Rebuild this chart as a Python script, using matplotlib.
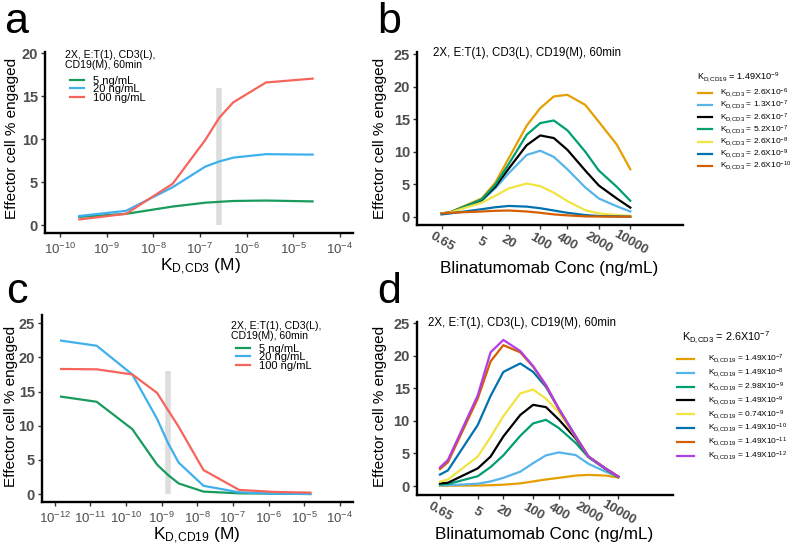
import numpy as np
import matplotlib
matplotlib.use('Agg')
import matplotlib.pyplot as plt

plt.rcParams['font.family'] = ['Liberation Sans', 'DejaVu Sans']
plt.rcParams['mathtext.fontset'] = 'custom'
plt.rcParams['mathtext.rm'] = 'Liberation Sans'
plt.rcParams['mathtext.it'] = 'Liberation Sans:italic'
plt.rcParams['mathtext.bf'] = 'Liberation Sans:bold'

# ---- panel a: vary KD,CD3 ----
kd_cd3 = [2.6e-10, 2.6e-9, 2.6e-8, 1.3e-7, 2.6e-7, 5.2e-7, 2.6e-6, 2.6e-5]
a_5 = [0.95, 1.3, 2.15, 2.6, 2.7, 2.8, 2.85, 2.75]
a_20 = [1.05, 1.65, 4.4, 6.8, 7.4, 7.85, 8.25, 8.2]
a_100 = [0.65, 1.3, 4.8, 9.9, 12.5, 14.3, 16.6, 17.05]

# ---- panel c: vary KD,CD19 ----
kd_cd19 = [1.49e-12, 1.49e-11, 1.49e-10, 7.4e-10, 1.49e-9, 2.98e-9, 1.49e-8, 1.49e-7, 1.49e-6, 1.49e-5]
c_5 = [14.25, 13.5, 9.5, 4.3, 2.8, 1.55, 0.35, 0.1, 0.05, 0.0]
c_20 = [22.45, 21.7, 17.5, 11.0, 7.5, 4.6, 1.2, 0.25, 0.05, 0.0]
c_100 = [18.3, 18.25, 17.5, 14.8, 12.3, 9.85, 3.5, 0.6, 0.3, 0.2]

conc_labels = ['5 ng/mL', '20 ng/mL', '100 ng/mL']
conc_colors = ['#1a9b5e', '#3fb0ee', '#f6645b']

# ---- panel b: blinatumomab conc, KD,CD19 = 1.49e-9 ----
conc = [0.65, 1, 5, 10, 20, 50, 100, 200, 400, 1000, 2000, 5000, 10000]
b_series = [
    [0.5, 0.7, 2.8, 5.2, 9.0, 14.0, 16.7, 18.5, 18.75, 17.2, 14.6, 11.1, 7.3],
    [0.4, 0.6, 2.45, 4.35, 6.7, 9.5, 10.15, 9.2, 7.3, 4.5, 2.8, 1.6, 0.8],
    [0.5, 0.65, 2.55, 4.6, 7.4, 11.0, 12.5, 12.1, 10.3, 7.1, 4.8, 2.8, 1.4],
    [0.5, 0.65, 2.65, 4.9, 8.1, 12.6, 14.4, 14.8, 13.3, 10.0, 7.1, 4.6, 2.45],
    [0.5, 0.65, 2.15, 3.2, 4.35, 5.1, 4.7, 3.7, 2.4, 1.0, 0.5, 0.25, 0.15],
    [0.35, 0.5, 1.15, 1.45, 1.65, 1.55, 1.3, 0.95, 0.6, 0.25, 0.1, 0.05, 0.0],
    [0.5, 0.6, 0.8, 0.9, 0.95, 0.8, 0.6, 0.35, 0.2, 0.05, 0.02, 0.0, 0.0],
]
b_labels = ['2.6X10$^{-6}$', '1.3X10$^{-7}$', '2.6X10$^{-7}$', '5.2X10$^{-7}$',
            '2.6X10$^{-8}$', '2.6X10$^{-9}$', '2.6X10$^{-10}$']
b_colors = ['#e69f00', '#56b4e9', '#000000', '#009e73', '#f0e442', '#0072b2', '#d55e00']

# ---- panel d: blinatumomab conc, KD,CD3 = 2.6e-7 ----
d_series = [
    [0.05, 0.05, 0.08, 0.12, 0.2, 0.4, 0.7, 1.0, 1.25, 1.6, 1.7, 1.6, 1.3],
    [0.1, 0.12, 0.35, 0.7, 1.25, 2.2, 3.5, 4.7, 5.15, 4.75, 3.4, 2.2, 1.4],
    [0.25, 0.3, 1.5, 2.9, 4.7, 7.7, 9.6, 10.15, 8.9, 6.6, 4.4, 2.6, 1.4],
    [0.4, 0.5, 2.7, 4.5, 7.6, 10.9, 12.45, 12.1, 10.2, 7.3, 4.5, 2.65, 1.4],
    [0.66, 1.0, 4.5, 7.5, 10.7, 14.2, 14.8, 13.4, 11.3, 7.5, 4.5, 2.7, 1.45],
    [1.75, 2.4, 9.35, 13.8, 17.5, 18.8, 17.5, 15.2, 11.8, 7.6, 4.5, 2.7, 1.45],
    [2.6, 3.65, 13.4, 19.1, 21.6, 20.5, 18.3, 15.4, 11.8, 7.6, 4.5, 2.7, 1.45],
    [2.85, 4.0, 13.9, 20.5, 22.4, 20.7, 18.4, 15.5, 11.9, 7.6, 4.5, 2.7, 1.45],
]
d_labels = ['1.49X10$^{-7}$', '1.49X10$^{-8}$', '2.98X10$^{-9}$', '1.49X10$^{-9}$',
            '0.74X10$^{-9}$', '1.49X10$^{-10}$', '1.49X10$^{-11}$', '1.49X10$^{-12}$']
d_colors = ['#e69f00', '#56b4e9', '#009e73', '#000000', '#f0e442', '#0072b2', '#d55e00', '#b23fe3']

conc_ticks = [0.65, 5, 20, 100, 400, 2000, 10000]
cond_text = '2X, E:T(1), CD3(L),\nCD19(M), 60min'
cond_line = '2X, E:T(1), CD3(L), CD19(M), 60min'
kd3 = r'$\mathrm{K_{D,\!CD3}}$'
kd19 = r'$\mathrm{K_{D,\!CD19}}$'
grey = '#dddddd'
tick_grey = '#4d4d4d'

W, H = 800, 549
fig = plt.figure(figsize=(W / 100, H / 100), dpi=100)


def px_axes(l, t, r, b):
    return fig.add_axes([l / W, 1 - b / H, (r - l) / W, (b - t) / H])


def fx(x):
    return x / W


def fy(y):
    return 1 - y / H


def style(ax, yticks):
    for s in ['top', 'right']:
        ax.spines[s].set_visible(False)
    for s in ['left', 'bottom']:
        ax.spines[s].set_linewidth(1.7)
    ax.tick_params(direction='out', length=3, width=1, color='#333333', pad=2)
    ax.set_yticks(yticks, [str(v) for v in yticks], fontweight='bold',
                  fontsize=10.5, color=tick_grey)


def log_ticks(ax, exps):
    ax.set_xscale('log')
    ax.set_xticks([10.0 ** e for e in exps],
                  ['$10^{%d}$' % e for e in exps], fontsize=9.5, color=tick_grey)
    ax.minorticks_off()


def conc_axis(ax):
    ax.set_xscale('log')
    ax.set_xticks(conc_ticks, [('%g' % v) for v in conc_ticks], fontsize=9.5,
                  fontweight='bold', color=tick_grey, rotation=-30,
                  ha='center', va='center')
    ax.minorticks_off()


def legend_at(ax, x, y, size, hl, tp, sp):
    ax.legend(loc='upper left', bbox_to_anchor=(fx(x), fy(y)),
              bbox_transform=fig.transFigure, frameon=False, fontsize=size,
              handlelength=hl, handletextpad=tp, labelspacing=sp,
              borderpad=0, borderaxespad=0)


# ---------------- a ----------------
ax = px_axes(45, 52, 353, 233)
ax.vlines(2.6e-7, 0, 16, color=grey, lw=4, zorder=1)
for ys, c, l in zip([a_5, a_20, a_100], conc_colors, conc_labels):
    ax.plot(kd_cd3, ys, color=c, lw=1.6, label=l, zorder=2)
log_ticks(ax, range(-10, -3))
ax.set_xlim(10 ** -10.32, 10 ** -3.72)
ax.set_ylim(-0.93, 20.15)
style(ax, [0, 5, 10, 15, 20])
ax.tick_params(axis='x', pad=3)
fig.text(fx(65), fy(50), cond_text, fontsize=7.6, ha='left', va='top', linespacing=0.95)
legend_at(ax, 70, 76, 8.0, 1.3, 0.75, -0.15)

# ---------------- b ----------------
ax = px_axes(417, 52, 683, 225)
for ys, c, l in zip(b_series, b_colors, b_labels):
    ax.plot(conc, ys, color=c, lw=1.6, label=kd3 + ' = ' + l)
conc_axis(ax)
ax.set_xlim(10 ** -0.736, 10 ** 5.17)
ax.set_ylim(-1.28, 25.34)
style(ax, [0, 5, 10, 15, 20, 25])
ax.tick_params(axis='x', pad=9.5)
fig.text(fx(433), fy(53), cond_line, fontsize=8.3, va='center', ha='left')
fig.text(fx(697), fy(77), kd19 + ' = 1.49X10$^{-9}$', fontsize=6.6, va='center', ha='left')
legend_at(ax, 698, 87, 6.0, 1.65, 1.05, -0.13)

# ---------------- c ----------------
ax = px_axes(41.7, 315, 353, 502)
ax.vlines(1.49e-9, 0, 18, color=grey, lw=4, zorder=1)
for ys, c, l in zip([c_5, c_20, c_100], conc_colors, conc_labels):
    ax.plot(kd_cd19, ys, color=c, lw=1.6, label=l, zorder=2)
log_ticks(ax, range(-12, -3))
ax.set_xlim(10 ** -12.37, 10 ** -3.63)
ax.set_ylim(-1.17, 26.2)
style(ax, [0, 5, 10, 15, 20, 25])
ax.tick_params(axis='x', pad=3)
fig.text(fx(231), fy(321), cond_text, fontsize=7.6, ha='left', va='top', linespacing=0.95)
legend_at(ax, 236, 344, 8.0, 1.3, 0.75, -0.15)

# ---------------- d ----------------
ax = px_axes(416.7, 321.7, 673, 495)
for ys, c, l in zip(d_series, d_colors, d_labels):
    ax.plot(conc, ys, color=c, lw=1.6, label=kd19 + ' = ' + l)
conc_axis(ax)
ax.set_xlim(10 ** -0.734, 10 ** 5.285)
ax.set_ylim(-1.38, 25.2)
style(ax, [0, 5, 10, 15, 20, 25])
ax.tick_params(axis='x', pad=9.5)
fig.text(fx(428), fy(323), cond_line, fontsize=8.3, va='center', ha='left')
fig.text(fx(682), fy(338), kd3 + ' = 2.6X10$^{-7}$', fontsize=7.8, va='center', ha='left')
legend_at(ax, 677, 353, 6.0, 2.0, 1.7, 0.07)

# axis titles and panel letters
ylab = 'Effector cell % engaged'
for x, y in [(12, 138), (380, 138), (11, 406), (380, 406)]:
    fig.text(fx(x), fy(y), ylab, rotation=90, ha='center', va='center', fontsize=11)
fig.text(fx(200), fy(267), kd3 + ' (M)', ha='center', va='center', fontsize=12.5)
fig.text(fx(197), fy(536), kd19 + ' (M)', ha='center', va='center', fontsize=12.5)
fig.text(fx(549), fy(268), 'Blinatumomab Conc (ng/mL)', ha='center', va='center', fontsize=12.3)
fig.text(fx(544), fy(535), 'Blinatumomab Conc (ng/mL)', ha='center', va='center', fontsize=12.3)
for x, y, s in [(4, 33, 'a'), (377, 33, 'b'), (6, 303, 'c'), (377, 303, 'd')]:
    fig.text(fx(x), fy(y), s, ha='left', va='baseline', fontsize=31)

fig.savefig('out.png', dpi=100)
